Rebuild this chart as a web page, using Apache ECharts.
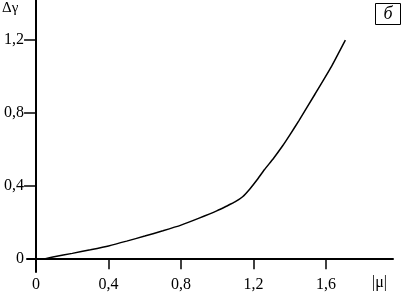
<!DOCTYPE html>
<html>
<head>
<meta charset="utf-8">
<script src="https://cdn.jsdelivr.net/npm/echarts@6/dist/echarts.min.js"></script>
<style>html,body{margin:0;padding:0;background:#fff}#c{width:402px;height:295px}</style>
</head>
<body>
<div id="c"></div>
<script>
var mu = [0.04, 0.1, 0.2, 0.3, 0.4, 0.5, 0.6, 0.7, 0.8, 0.9, 1.0, 1.05, 1.1, 1.14, 1.18, 1.22, 1.26, 1.31, 1.36, 1.40, 1.45, 1.54, 1.63, 1.707];
var dGamma = [0, 0.014, 0.032, 0.052, 0.073, 0.099, 0.127, 0.156, 0.187, 0.225, 0.266, 0.29, 0.315, 0.342, 0.385, 0.435, 0.49, 0.552, 0.62, 0.68, 0.758, 0.905, 1.055, 1.2];
var xTicks = [0.4, 0.8, 1.2, 1.6];
var xLabels = [0, 0.4, 0.8, 1.2, 1.6];
var yTicks = [0.4, 0.8, 1.2];
var yLabels = [0, 0.4, 0.8, 1.2];

var pts = mu.map(function (m, i) { return [m, dGamma[i]]; });
var font = 'Liberation Serif';
function fmt(v) { return String(+v.toFixed(1)).replace('.', ','); }

var chart = echarts.init(document.getElementById('c'), null, {renderer: 'canvas'});
chart.setOption({
  animation: false,
  backgroundColor: '#fff',
  grid: {left: 27, right: 9, top: 0, bottom: 23, containLabel: false, outerBoundsMode: 'none'},
  xAxis: {
    type: 'value', min: -0.05, max: 1.97,
    splitLine: {show: false},
    axisLine: {onZero: true, lineStyle: {color: '#000', width: 2}},
    axisTick: {show: true, inside: false, length: 10, customValues: xTicks, lineStyle: {color: '#000', width: 1.5}},
    axisLabel: {customValues: xLabels, formatter: fmt, color: '#000', fontFamily: font, fontSize: 16, margin: 5}
  },
  yAxis: {
    type: 'value', min: -0.07, max: 1.42,
    splitLine: {show: false},
    axisLine: {onZero: true, lineStyle: {color: '#000', width: 2}},
    axisTick: {show: true, inside: false, length: 12, customValues: yTicks, lineStyle: {color: '#000', width: 1.5}},
    axisLabel: {customValues: yLabels, formatter: fmt, color: '#000', fontFamily: font, fontSize: 16, margin: 3}
  },
  series: [{
    type: 'line', data: pts, smooth: 0.15, showSymbol: false,
    lineStyle: {color: '#000', width: 1.5}
  }],
  graphic: [
    {type: 'text', left: 2, top: 1, style: {text: 'Δγ', fill: '#000', font: '15px "Liberation Serif"'}},
    {type: 'text', left: 372, top: 275, style: {text: '|μ|', fill: '#000', font: '16px "Liberation Serif"'}},
    {type: 'rect', shape: {x: 375.5, y: 3.5, width: 25, height: 21}, style: {fill: 'none', stroke: '#000', lineWidth: 1}},
    {type: 'text', x: 388, y: 14, style: {text: 'б', fill: '#000', font: 'italic 18px "Liberation Serif"', textAlign: 'center', textVerticalAlign: 'middle'}}
  ]
});
</script>
</body>
</html>
